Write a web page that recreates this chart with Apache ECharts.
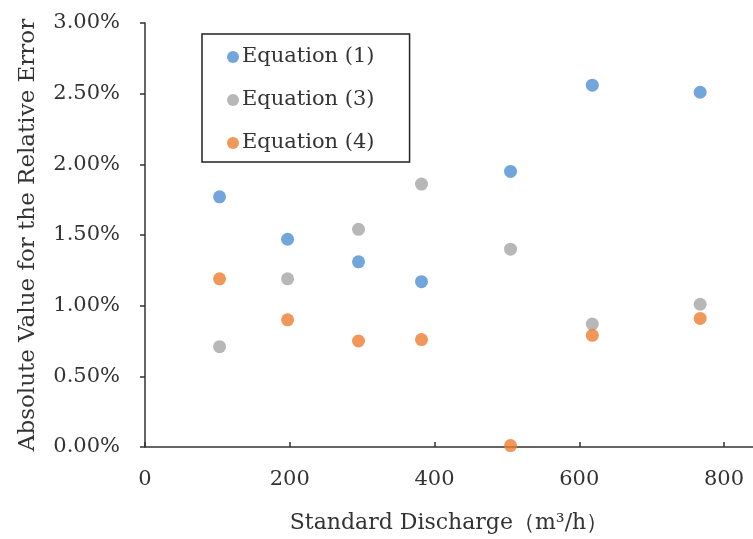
<!DOCTYPE html>
<html>
<head>
<meta charset="utf-8">
<script src="https://cdn.jsdelivr.net/npm/echarts@6/dist/echarts.min.js"></script>
<style>html,body{margin:0;padding:0;background:#fff}#c{width:753px;height:539px}</style>
</head>
<body>
<div id="c"></div>
<script>
const discharge = [103, 197, 295, 382, 505, 618, 767];
const eq1 = [1.77, 1.47, 1.31, 1.17, 1.95, 2.56, 2.51];
const eq3 = [0.71, 1.19, 1.54, 1.86, 1.40, 0.87, 1.01];
const eq4 = [1.19, 0.90, 0.75, 0.76, 0.01, 0.79, 0.91];
const seriesNames = ['Equation (1)', 'Equation (3)', 'Equation (4)'];
const xTicks = [0, 200, 400, 600, 800];

const colors = ['#4E8FD3', '#A5A5A5', '#ED7D31'];
const FONT = 'DejaVu Serif';
const TXT = '#333';
const pair = arr => discharge.map((x, i) => [x, arr[i]]);

const chart = echarts.init(document.getElementById('c'), null, {renderer: 'canvas'});
chart.setOption({
  animation: false,
  color: colors,
  textStyle: {fontFamily: FONT, color: TXT},
  grid: {left: 145, right: 0, top: 23, bottom: 92, containLabel: false},
  legend: {
    orient: 'vertical', left: 202, top: 34,
    borderColor: '#222', borderWidth: 1.5,
    padding: [12, 35, 8, 25],
    itemGap: 21, itemWidth: 12, itemHeight: 12,
    icon: 'circle',
    textStyle: {fontFamily: FONT, fontSize: 21, color: TXT, lineHeight: 22, padding: [0, 0, 0, -2]},
    data: seriesNames
  },
  xAxis: {
    type: 'value', min: 0, max: 840, interval: 200,
    name: 'Standard Discharge（m³/h）', nameLocation: 'middle', nameGap: 65,
    nameTextStyle: {fontFamily: FONT, fontSize: 22, color: TXT},
    axisLine: {show: true, lineStyle: {color: '#333', width: 1.5}},
    axisTick: {show: true, inside: true, length: 5, customValues: xTicks, lineStyle: {color: '#333', width: 1.5}},
    axisLabel: {margin: 22, fontFamily: FONT, fontSize: 21, color: TXT, customValues: xTicks},
    splitLine: {show: false}
  },
  yAxis: {
    type: 'value', min: 0, max: 3, interval: 0.5,
    name: 'Absolute Value for the Relative Error', nameLocation: 'middle', nameGap: 105, nameRotate: 90,
    nameTextStyle: {fontFamily: FONT, fontSize: 23, color: TXT},
    axisLine: {show: true, lineStyle: {color: '#333', width: 1.5}},
    axisTick: {show: true, inside: false, length: 5, lineStyle: {color: '#333', width: 1.5}},
    axisLabel: {margin: 25, fontFamily: FONT, fontSize: 21, color: TXT, formatter: v => v.toFixed(2) + '%'},
    splitLine: {show: false}
  },
  series: [
    {name: seriesNames[0], type: 'scatter', symbolSize: 13, data: pair(eq1)},
    {name: seriesNames[1], type: 'scatter', symbolSize: 13, data: pair(eq3)},
    {name: seriesNames[2], type: 'scatter', symbolSize: 13, data: pair(eq4)}
  ]
});
</script>
</body>
</html>
